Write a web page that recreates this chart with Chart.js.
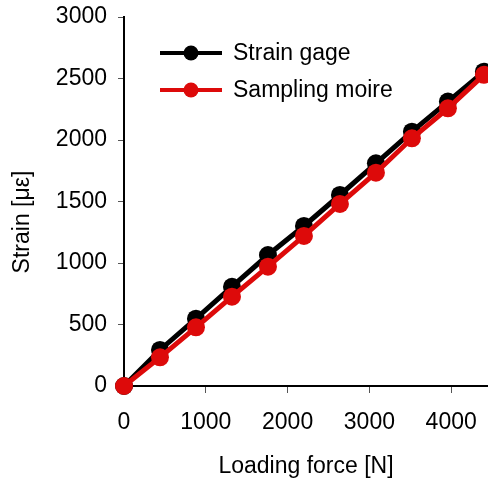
<!DOCTYPE html>
<html>
<head>
<meta charset="utf-8">
<script src="https://cdn.jsdelivr.net/npm/chart.js@4/dist/chart.umd.min.js"></script>
<style>
  body { margin: 0; background: #fff; }
  canvas { display: block; }
</style>
</head>
<body>
<canvas id="chart" width="488" height="480"></canvas>
<script>
// Data
const loadForce = [0, 440, 880, 1320, 1760, 2200, 2640, 3080, 3520, 3960, 4400];
const strainGage = [0, 293, 547, 807, 1065, 1301, 1553, 1810, 2068, 2312, 2555];
const samplingMoire = [0, 233, 477, 726, 970, 1220, 1480, 1734, 2014, 2258, 2530];
const xTicks = [0, 1000, 2000, 3000, 4000];
const yTicks = [0, 500, 1000, 1500, 2000, 2500, 3000];

const FONT = 'Liberation Sans, Arial, Helvetica, sans-serif';
const FONT_SIZE = 23;

function toPoints(xs, ys) {
  return xs.map((x, i) => ({ x, y: ys[i] }));
}

// Legend inside the plot (top-left) and the y-axis title
const extras = {
  id: 'extras',
  afterDraw(chart) {
    const ctx = chart.ctx;
    const rows = [53, 90];
    ctx.save();
    ctx.font = `${FONT_SIZE}px ${FONT}`;
    chart.data.datasets.forEach((ds, i) => {
      const y = rows[i];
      ctx.strokeStyle = ds.borderColor;
      ctx.lineWidth = 4;
      ctx.beginPath();
      ctx.moveTo(160, y);
      ctx.lineTo(222, y);
      ctx.stroke();
      ctx.fillStyle = ds.pointBackgroundColor;
      ctx.beginPath();
      ctx.arc(191, y, 7.5, 0, Math.PI * 2);
      ctx.fill();
      ctx.fillStyle = '#000';
      ctx.textBaseline = 'middle';
      ctx.textAlign = 'left';
      ctx.fillText(ds.label, 233, y + 1);
    });

    // y title, rotated
    ctx.translate(23, 222);
    ctx.rotate(-Math.PI / 2);
    ctx.textAlign = 'center';
    ctx.textBaseline = 'middle';
    ctx.fillStyle = '#000';
    ctx.fillText('Strain [με]', 0, 0);
    ctx.restore();
  },
};

new Chart(document.getElementById('chart').getContext('2d'), {
  type: 'line',
  data: {
    datasets: [
      {
        label: 'Strain gage',
        data: toPoints(loadForce, strainGage),
        borderColor: '#000000',
        backgroundColor: '#000000',
        pointBackgroundColor: '#000000',
        pointBorderColor: '#000000',
        borderWidth: 5,
        pointRadius: 9,
        pointBorderWidth: 0,
        tension: 0,
        clip: false,
        order: 2,
      },
      {
        label: 'Sampling moire',
        data: toPoints(loadForce, samplingMoire),
        borderColor: '#dd0a0a',
        backgroundColor: '#dd0a0a',
        pointBackgroundColor: '#dd0a0a',
        pointBorderColor: '#dd0a0a',
        borderWidth: 5,
        pointRadius: 9,
        pointBorderWidth: 0,
        tension: 0,
        clip: false,
        order: 1,
      },
    ],
  },
  options: {
    responsive: false,
    animation: false,
    layout: { autoPadding: false, padding: { top: 17, right: 0, left: 0, bottom: 0 } },
    plugins: {
      legend: { display: false },
      tooltip: { enabled: false },
    },
    scales: {
      x: {
        type: 'linear',
        min: 0,
        max: 4450,
        afterFit(scale) {
          scale.height = 94;
          scale.paddingLeft = 0;
          scale.paddingRight = 0;
        },
        afterBuildTicks(scale) { scale.ticks = xTicks.map(v => ({ value: v })); },
        ticks: {
          padding: 16,
          color: '#000',
          font: { family: FONT, size: FONT_SIZE },
          maxRotation: 0,
          autoSkip: false,
          callback: v => String(v),
        },
        grid: { drawOnChartArea: false, drawTicks: true, tickLength: 7, color: '#555', lineWidth: 1 },
        border: { display: true, color: '#000', width: 2 },
        title: {
          display: true,
          text: 'Loading force [N]',
          color: '#000',
          font: { family: FONT, size: FONT_SIZE },
          padding: { top: 0, bottom: 0 },
        },
      },
      y: {
        type: 'linear',
        min: 0,
        max: 3000,
        afterFit(scale) {
          scale.width = 124;
          scale.paddingTop = 0;
          scale.paddingBottom = 0;
        },
        afterBuildTicks(scale) { scale.ticks = yTicks.map(v => ({ value: v })); },
        ticks: {
          padding: 11,
          color: '#000',
          font: { family: FONT, size: FONT_SIZE },
          autoSkip: false,
          callback: v => String(v),
        },
        grid: { drawOnChartArea: false, drawTicks: true, tickLength: 6, color: '#555', lineWidth: 1 },
        border: { display: true, color: '#000', width: 2 },
        title: { display: false },
      },
    },
  },
  plugins: [extras],
});
</script>
</body>
</html>
